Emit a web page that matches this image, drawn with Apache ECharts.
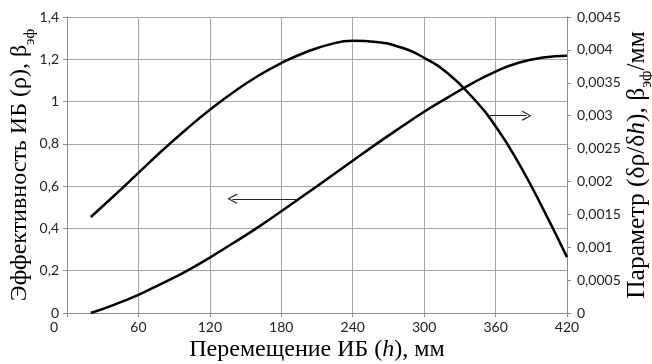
<!DOCTYPE html>
<html>
<head>
<meta charset="utf-8">
<script src="https://cdn.jsdelivr.net/npm/echarts@6/dist/echarts.min.js"></script>
<style>html,body{margin:0;padding:0;background:#fff;}#c{width:652px;height:364px;}</style>
</head>
<body>
<div id="c"></div>
<script>
// ---- data ----
const hValues = [20, 40, 60, 80, 100, 120, 140, 160, 180, 200, 220, 240, 260, 280, 300, 320, 340, 360, 380, 400, 420];
const rhoValues = [0, 0.04, 0.086, 0.14, 0.197, 0.262, 0.332, 0.404, 0.481, 0.56, 0.64, 0.72, 0.80, 0.877, 0.952, 1.02, 1.085, 1.142, 1.185, 1.208, 1.217];
const betaValues = [0.00146, 0.00179, 0.00213, 0.00247, 0.00279, 0.00309, 0.00336, 0.00360, 0.00380, 0.00396, 0.00408, 0.00414, 0.00412, 0.00404, 0.00388, 0.00364, 0.00329, 0.00284, 0.00226, 0.00158, 0.00085];
const xTicks = {min: 0, max: 420, interval: 60};
const leftTicks = {min: 0, max: 1.4, interval: 0.2};
const rightTicks = {min: 0, max: 0.0045, interval: 0.0005};
// arrow annotations (data units)
const leftArrow = {y: 0.54, from: 193, to: 139};
const rightArrow = {y: 0.003, from: 355, to: 386};

const fmtComma = v => Number(v.toFixed(5)).toString().replace('.', ',');
const rhoData = hValues.map((h, i) => [h, rhoValues[i]]);
const betaData = hValues.map((h, i) => [h, betaValues[i]]);
const chevron = 'path://M5,0 L10,9 L9.1,10 L5,2.2 L0.9,10 L0,9 Z';

const serif = '"Liberation Serif", "DejaVu Serif", serif';
const sans = 'Lato, "Open Sans", sans-serif';
const gridColor = '#a6a6a6';
const axisColor = '#8c8c8c';
const TS = 24, SS = 15, LH = 28;
const RTS = 25.5, RSS = 16;

const chart = echarts.init(document.getElementById('c'), null, {renderer: 'canvas'});
chart.setOption({
  animation: false,
  backgroundColor: '#fff',
  grid: {left: 67, right: 85, top: 17, bottom: 51, containLabel: false, outerBoundsMode: 'none'},
  xAxis: {
    type: 'value', min: xTicks.min, max: xTicks.max, interval: xTicks.interval,
    name: '{n|Перемещение ИБ (}{i|h}{n|), мм}',
    nameLocation: 'middle', nameGap: 23, nameMoveOverlap: false,
    nameTextStyle: {rich: {
      n: {fontFamily: serif, fontSize: TS, color: '#000', lineHeight: LH},
      i: {fontFamily: serif, fontSize: TS, fontStyle: 'italic', color: '#000', lineHeight: LH}
    }},
    axisLine: {show: true, lineStyle: {color: axisColor, width: 1}},
    axisTick: {show: true, length: 4, lineStyle: {color: axisColor}},
    splitLine: {show: true, lineStyle: {color: gridColor, width: 1}},
    axisLabel: {
      fontFamily: sans, fontSize: 14, color: '#222', margin: 7,
      formatter: v => v === 0 ? '{z|0}' : String(v),
      rich: {z: {fontFamily: sans, fontSize: 14, color: '#222', padding: [0, 26, 0, 0]}}
    }
  },
  yAxis: [
    {
      type: 'value', min: leftTicks.min, max: leftTicks.max, interval: leftTicks.interval,
      position: 'left',
      name: '{n|Эффективность ИБ (ρ), β}{s|эф}',
      nameLocation: 'middle', nameRotate: 90, nameGap: 35, nameMoveOverlap: false,
      nameTextStyle: {rich: {
        n: {fontFamily: serif, fontSize: TS, color: '#000', lineHeight: LH, verticalAlign: 'bottom'},
        s: {fontFamily: serif, fontSize: SS, color: '#000', lineHeight: LH, verticalAlign: 'bottom', padding: [0, 0, -6, 0]}
      }},
      axisLine: {show: true, lineStyle: {color: axisColor, width: 1}},
      axisTick: {show: true, length: 4, lineStyle: {color: axisColor}},
      splitLine: {show: true, lineStyle: {color: gridColor, width: 1}},
      axisLabel: {fontFamily: sans, fontSize: 14, color: '#222', margin: 8, formatter: fmtComma}
    },
    {
      type: 'value', min: rightTicks.min, max: rightTicks.max, interval: rightTicks.interval,
      position: 'right',
      name: '{n|Параметр (δρ/δ}{i|h}{n|), β}{s|эф}{n|/мм}',
      nameLocation: 'middle', nameRotate: 90, nameGap: 55, nameMoveOverlap: false,
      nameTextStyle: {rich: {
        n: {fontFamily: serif, fontSize: RTS, color: '#000', lineHeight: LH, verticalAlign: 'bottom'},
        i: {fontFamily: serif, fontSize: RTS, fontStyle: 'italic', color: '#000', lineHeight: LH, verticalAlign: 'bottom'},
        s: {fontFamily: serif, fontSize: RSS, color: '#000', lineHeight: LH, verticalAlign: 'bottom', padding: [0, 0, -5, 0]}
      }},
      axisLine: {show: true, lineStyle: {color: axisColor, width: 1}},
      axisTick: {show: true, length: 4, lineStyle: {color: axisColor}},
      splitLine: {show: false},
      axisLabel: {fontFamily: sans, fontSize: 14, color: '#222', margin: 10, formatter: fmtComma}
    }
  ],
  series: [
    {
      type: 'line', yAxisIndex: 0, data: rhoData, smooth: 0.5, showSymbol: false,
      lineStyle: {color: '#000', width: 2.5},
      markLine: {
        silent: true, animation: false,
        symbol: ['none', chevron], symbolSize: [10, 10],
        lineStyle: {color: '#222', width: 1, type: 'solid'},
        label: {show: false},
        data: [[{coord: [leftArrow.from, leftArrow.y]}, {coord: [leftArrow.to, leftArrow.y]}]]
      }
    },
    {
      type: 'line', yAxisIndex: 1, data: betaData, smooth: 0.5, showSymbol: false,
      lineStyle: {color: '#000', width: 2.5},
      markLine: {
        silent: true, animation: false,
        symbol: ['none', chevron], symbolSize: [10, 10],
        lineStyle: {color: '#222', width: 1, type: 'solid'},
        label: {show: false},
        data: [[{coord: [rightArrow.from, rightArrow.y]}, {coord: [rightArrow.to, rightArrow.y]}]]
      }
    }
  ]
});
</script>
</body>
</html>
